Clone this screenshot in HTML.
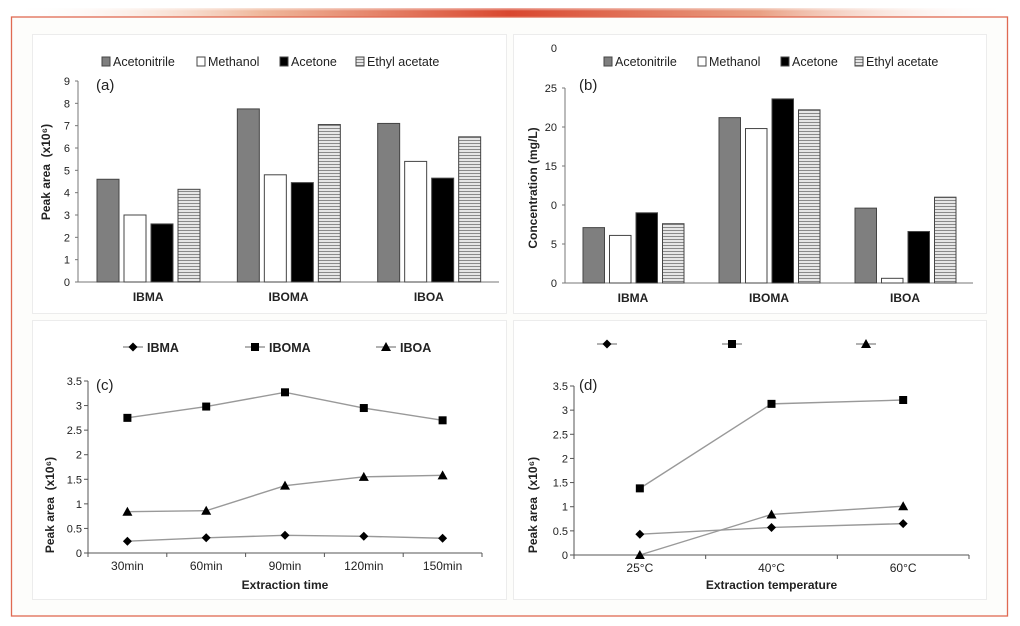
<!DOCTYPE html>
<html><head><meta charset="utf-8"><style>
html,body{margin:0;padding:0;background:#fff;}
svg{display:block;font-family:"Liberation Sans",sans-serif;}
</style></head><body>
<svg id="root" width="1020" height="626" xmlns="http://www.w3.org/2000/svg">
<defs>
<linearGradient id="band" x1="0" x2="1" y1="0" y2="0">
<stop offset="0" stop-color="#fff" stop-opacity="0"/>
<stop offset="0.25" stop-color="#efb89c"/>
<stop offset="0.5" stop-color="#d9472f"/>
<stop offset="0.75" stop-color="#e9a084"/>
<stop offset="1" stop-color="#fff" stop-opacity="0"/>
</linearGradient>
<linearGradient id="bandv" x1="0" x2="0" y1="0" y2="1">
<stop offset="0" stop-color="#fff" stop-opacity="1"/>
<stop offset="1" stop-color="#fff" stop-opacity="0"/>
</linearGradient>
<pattern id="stripe" width="4" height="3" patternUnits="userSpaceOnUse">
<rect width="4" height="3" fill="#e6e6e6"/><rect y="2" width="4" height="1" fill="#8a8a8a"/>
</pattern>
</defs>
<rect x="10" y="8" width="1000" height="9" fill="url(#band)"/>
<rect x="10" y="6" width="1000" height="5" fill="url(#bandv)"/>
<rect x="11.5" y="17" width="996" height="599" fill="#fdfdfb" stroke="#e06a52" stroke-width="1.3"/>
<rect x="32.5" y="34.5" width="474" height="279" fill="#fff" stroke="#ececec"/>
<rect x="513.5" y="34.5" width="473" height="279" fill="#fff" stroke="#ececec"/>
<rect x="32.5" y="320.5" width="474" height="279" fill="#fff" stroke="#ececec"/>
<rect x="513.5" y="320.5" width="473" height="279" fill="#fff" stroke="#ececec"/>
<g id="g"></g>
</svg>
<script>
const barCats = ["IBMA","IBOMA","IBOA"];
const solvents = ["Acetonitrile","Methanol","Acetone","Ethyl acetate"];
const aAcetonitrile = [4.6, 7.75, 7.1];
const aMethanol = [3.0, 4.8, 5.4];
const aAcetone = [2.6, 4.45, 4.65];
const aEthyl = [4.15, 7.05, 6.5];
const aTicks = [0,1,2,3,4,5,6,7,8,9];
const bAcetonitrile = [7.1, 21.2, 9.6];
const bMethanol = [6.1, 19.8, 0.6];
const bAcetone = [9.0, 23.6, 6.6];
const bEthyl = [7.6, 22.2, 11.0];
const bTicks = [0,5,10,15,20,25];
const bTickLabels = ["0","5","0","15","20","25"];
const timeCats = ["30min","60min","90min","120min","150min"];
const cIBMA = [0.24, 0.31, 0.36, 0.34, 0.30];
const cIBOMA = [2.75, 2.98, 3.27, 2.95, 2.70];
const cIBOA = [0.84, 0.86, 1.37, 1.55, 1.58];
const tempCats = ["25°C","40°C","60°C"];
const dIBMA = [0.43, 0.57, 0.65];
const dIBOMA = [1.38, 3.13, 3.21];
const dIBOA = [0.0, 0.84, 1.01];
const lineTicks = [0,0.5,1,1.5,2,2.5,3,3.5];
const lineTickLabels = ["0","0.5","1","1.5","2","2.5","3","3.5"];

const NS="http://www.w3.org/2000/svg";
const G=document.getElementById('g');
function mk(tag,attrs,parent){const e=document.createElementNS(NS,tag);for(const k in attrs)e.setAttribute(k,attrs[k]);(parent||G).appendChild(e);return e;}
function txt(x,y,s,size,extra,parent){const e=mk('text',Object.assign({x:x,y:y,'font-size':size,fill:'#222'},extra||{}),parent);e.textContent=s;return e;}

const fills=["#7f7f7f","#ffffff","#000000","url(#stripe)"];

function barChart(o){
  const x0=o.x0,x1=o.x1,y0=o.y0,ytop=o.ytop,max=o.max;
  const ys=v=>y0-(v/max)*(y0-ytop);
  const grp=mk('g',{});
  
  
  mk('line',{x1:x0,y1:ytop,x2:x0,y2:y0,stroke:'#777'},grp);
  mk('line',{x1:x0,y1:y0,x2:x1,y2:y0,stroke:'#777'},grp);
  o.ticks.forEach((t,i)=>{const y=ys(t);mk('line',{x1:x0-3,y1:y,x2:x0,y2:y,stroke:'#777'},grp);
    const l=txt(x0-8,y+4,o.tickLabels[i],11,{'text-anchor':'end'},grp);
    
    });
  if(o.extraTop){const l=txt(x0-8,o.extraTop.y,o.extraTop.s,11,{'text-anchor':'end'},grp);
    
    }
  const cw=(x1-x0)/barCats.length;
  barCats.forEach((c,ci)=>{
    const cx=x0+cw*ci;
    o.series.forEach((s,si)=>{
      const v=s[ci];const bx=cx+o.off+si*o.step;const y=ys(v);
      const r=mk('rect',{x:bx,y:y,width:o.bw,height:y0-y,fill:fills[si],stroke:'#444','stroke-width':1},grp);
      
      
    });
    const l=txt(cx+cw/2,y0+19,c,12,{'text-anchor':'middle','font-weight':'bold'},grp);
    
    
  });
  o.legendX.forEach((lx,i)=>{
    const r=mk('rect',{x:lx,y:o.legY-5,width:8,height:9,fill:fills[i],stroke:'#444'},grp);
    
    
    const l=txt(lx+11,o.legY+4,solvents[i],12.5,{},grp);
    
    
  });
  const pl=txt(o.panelX,o.panelY,o.panel,15,{},grp);
  
  
  const yt=txt(0,0,o.ytitle,12,{'text-anchor':'middle','font-weight':'bold',transform:'translate('+o.ytX+','+o.ytY+') rotate(-90)'},grp);
  
  
}

barChart({name:'chart-a',x0:78,x1:499,y0:282,ytop:81,max:9,ticks:aTicks,tickLabels:aTicks.map(String),
  series:[aAcetonitrile,aMethanol,aAcetone,aEthyl],off:19,step:27,bw:22,
  legendX:[102,197,280,356],legY:62,panel:'(a)',panelX:96,panelY:90,ytitle:'Peak area\u00a0 (x10⁶)',ytX:50,ytY:172});
barChart({name:'chart-b',x0:565,x1:973,y0:283,ytop:88,max:25,ticks:bTicks,tickLabels:bTickLabels,extraTop:{y:52,s:'0'},
  series:[bAcetonitrile,bMethanol,bAcetone,bEthyl],off:18,step:26.5,bw:21.5,
  legendX:[604,698,781,855],legY:62,panel:'(b)',panelX:579,panelY:90,ytitle:'Concentration (mg/L)',ytX:537,ytY:188});

function marker(type,x,y,parent){
  if(type==='d') return mk('path',{d:'M'+x+' '+(y-4.5)+' L'+(x+4.5)+' '+y+' L'+x+' '+(y+4.5)+' L'+(x-4.5)+' '+y+' Z',fill:'#000'},parent);
  if(type==='s') return mk('rect',{x:x-4,y:y-4,width:8,height:8,fill:'#000'},parent);
  return mk('path',{d:'M'+x+' '+(y-5)+' L'+(x+5)+' '+(y+4)+' L'+(x-5)+' '+(y+4)+' Z',fill:'#000'},parent);
}
const lineNames=["IBMA","IBOMA","IBOA"],mtypes=['d','s','t'];
function lineChart(o){
  const x0=o.x0,x1=o.x1,y0=o.y0,ytop=o.ytop;
  const ys=v=>y0-(v/3.5)*(y0-ytop);
  const n=o.cats.length,cw=(x1-x0)/n;
  const xs=i=>x0+cw*(i+0.5);
  const grp=mk('g',{});
  
  
  mk('line',{x1:x0,y1:ytop,x2:x0,y2:y0,stroke:'#555'},grp);
  mk('line',{x1:x0,y1:y0,x2:x1,y2:y0,stroke:'#555'},grp);
  lineTicks.forEach((t,i)=>{const y=ys(t);mk('line',{x1:x0-4,y1:y,x2:x0,y2:y,stroke:'#555'},grp);
    const l=txt(x0-6,y+4,lineTickLabels[i],11,{'text-anchor':'end'},grp);
    
    });
  for(let i=0;i<=n;i++){const x=x0+cw*i;mk('line',{x1:x,y1:y0,x2:x,y2:y0+4,stroke:'#555'},grp);}
  o.cats.forEach((c,i)=>{const l=txt(xs(i),y0+17,c,12,{'text-anchor':'middle'},grp);
    
    });
  o.series.forEach((s,si)=>{
    const pts=s.map((v,i)=>xs(i)+','+ys(v)).join(' ');
    const pl=mk('polyline',{points:pts,fill:'none',stroke:'#999','stroke-width':1.4},grp);
    
    
    s.forEach((v,i)=>{const m=marker(mtypes[si],xs(i),ys(v),grp);
      
      });
  });
  o.legendX.forEach((lx,i)=>{
    mk('line',{x1:lx-10,y1:o.legY,x2:lx+10,y2:o.legY,stroke:'#999','stroke-width':1.4},grp);
    const m=marker(mtypes[i],lx,o.legY,grp);
    
    
    if(o.legendText){const l=txt(lx+14,o.legY+5,lineNames[i],12.5,{'font-weight':'bold'},grp);
      
      }
  });
  const pl=txt(o.panelX,o.panelY,o.panel,15,{},grp);
  
  
  const yt=txt(0,0,'Peak area\u00a0 (x10⁶)',12,{'text-anchor':'middle','font-weight':'bold',transform:'translate('+o.ytX+','+o.ytY+') rotate(-90)'},grp);
  
  
  const xt=txt((x0+x1)/2,589,o.xtitle,12,{'text-anchor':'middle','font-weight':'bold'},grp);
  
  
}
lineChart({name:'chart-c',x0:88,x1:482,y0:553,ytop:381,cats:timeCats,series:[cIBMA,cIBOMA,cIBOA],
  legendX:[133,255,386],legY:347,legendText:true,panel:'(c)',panelX:96,panelY:390,ytX:54,ytY:505,xtitle:'Extraction time'});
lineChart({name:'chart-d',x0:574,x1:969,y0:555,ytop:386,cats:tempCats,series:[dIBMA,dIBOMA,dIBOA],
  legendX:[607,732,866],legY:344,legendText:false,panel:'(d)',panelX:579,panelY:390,ytX:537,ytY:505,xtitle:'Extraction temperature'});
</script>
</body></html>
